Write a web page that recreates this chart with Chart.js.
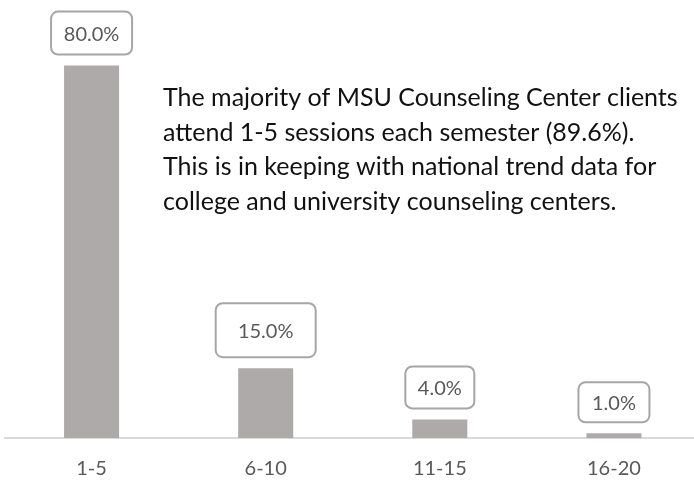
<!DOCTYPE html>
<html>
<head>
<meta charset="utf-8">
<script src="https://cdn.jsdelivr.net/npm/chart.js@4"></script>
<style>
  html, body { margin: 0; padding: 0; background: #fff; overflow: hidden; }
  #wrap { width: 701px; height: 480px; }
</style>
</head>
<body>
<div id="wrap"><canvas id="sessionsChart" width="701" height="480"></canvas></div>
<script>
// sessions per semester
let sessionRanges = ['1-5', '6-10', '11-15', '16-20'];
let clientShares = [80.0, 15.0, 4.0, 1.0];
let noteLines = [
  'The majority of MSU Counseling Center clients',
  'attend 1-5 sessions each semester (89.6%).',
  'This is in keeping with national trend data for',
  'college and university counseling centers.'
];

const FONT = 'Lato, "Open Sans", sans-serif';
// label box sizes (the boxes were hand-sized in the original)
let boxWidths = [81, 100, 69, 71];
let boxHeights = [43, 54, 42, 40];

/**
 * Draws boxed value labels above each bar.
 */
let boxedLabels = {
  id: 'boxedLabels',
  afterDatasetsDraw(chart) {
    let ctx = chart.ctx;
    let meta = chart.getDatasetMeta(0);
    ctx.save();
    ctx.font = '20px ' + FONT;
    ctx.textAlign = 'center';
    ctx.textBaseline = 'middle';
    meta.data.forEach((bar, i) => {
      let text = clientShares[i].toFixed(1) + '%';
      let w = boxWidths[i];
      let h = boxHeights[i];
      let x = bar.x - w / 2;
      let y = bar.y - 11 - h;
      ctx.beginPath();
      ctx.roundRect(x, y, w, h, 7);
      ctx.fillStyle = '#fff';
      ctx.fill();
      ctx.lineWidth = 2;
      ctx.strokeStyle = '#a6a6a6';
      ctx.stroke();
      ctx.fillStyle = '#595959';
      ctx.fillText(text, bar.x, y + h / 2 + 1);
    });
    ctx.restore();
  }
};

/**
 * Draws the explanatory note in the upper right.
 */
let noteText = {
  id: 'noteText',
  afterDraw(chart) {
    let ctx = chart.ctx;
    ctx.save();
    ctx.font = '25px ' + FONT;
    ctx.fillStyle = '#111';
    ctx.textAlign = 'left';
    ctx.textBaseline = 'middle';
    noteLines.forEach((line, i) => ctx.fillText(line, 163, 98 + i * 34.5));
    ctx.restore();
  }
};

new Chart(document.getElementById('sessionsChart'), {
  type: 'bar',
  data: {
    labels: sessionRanges,
    datasets: [{
      data: clientShares,
      backgroundColor: '#aeaaaa',
      barPercentage: 0.79,
      categoryPercentage: 0.4
    }]
  },
  options: {
    responsive: false,
    animation: false,
    layout: { padding: { left: 4.5, right: 0, top: 19, bottom: -12 } },
    plugins: { legend: { display: false }, tooltip: { enabled: false } },
    scales: {
      x: {
        grid: { display: false },
        border: { display: true, color: '#d9d9d9', width: 2 },
        ticks: { color: '#595959', font: { family: FONT, size: 20 }, padding: 11 }
      },
      y: { display: false, min: 0, max: 90 }
    }
  },
  plugins: [boxedLabels, noteText]
});
</script>
</body>
</html>
